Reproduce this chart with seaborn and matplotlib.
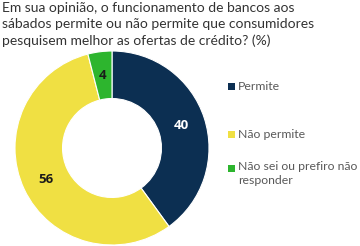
import matplotlib
matplotlib.use("Agg")
import matplotlib.pyplot as plt
import seaborn as sns
import numpy as np

categories = ["Permite", "Não permite", "Não sei ou prefiro não\nresponder"]
values = [40, 56, 4]
colors = ["#0c2f52", "#f0e043", "#2db52e"]
label_colors = ["white", "#1a1a1a", "#1a1a1a"]
title = ("Em sua opinião, o funcionamento de bancos aos\n"
         "sábados permite ou não permite que consumidores\n"
         "pesquisem melhor as ofertas de crédito? (%)")

sns.set_theme(style="white")
plt.rcParams['font.family'] = ['Lato', 'DejaVu Sans']

W, H = 360, 246
fig = plt.figure(figsize=(W / 100, H / 100), dpi=100)
fig.patch.set_facecolor("white")

cx, cy, r = 112, 148, 97
ax = fig.add_axes([(cx - r) / W, (H - cy - r) / H, 2 * r / W, 2 * r / H])
wedges, texts = ax.pie(values, colors=colors, startangle=90, counterclock=False,
                       radius=1.0, wedgeprops=dict(width=0.49, edgecolor="white", linewidth=0.8))
ax.set_xlim(-1, 1)
ax.set_ylim(-1, 1)
ax.set_aspect("equal")
ax.axis("off")

cum = 0
for v, c in zip(values, label_colors):
    mid = 90 - (cum + v / 2) / sum(values) * 360
    cum += v
    rr = 0.755
    ax.text(rr * np.cos(np.radians(mid)), rr * np.sin(np.radians(mid)), str(v),
            ha="center", va="center", color=c, fontsize=9.5, fontweight="bold",
            family=['Open Sans', 'DejaVu Sans'])

fig.text(2 / W, 1 - 2 / H, title, ha="left", va="top", fontsize=10.0,
         color="#333333", linespacing=1.42, family=['Lato', 'DejaVu Sans'])

leg_y = [86, 134, 168]
for cat, col, y in zip(categories, colors, leg_y):
    fig.patches.append(plt.Rectangle((228 / W, 1 - (y + 3.5) / H), 7 / W, 7 / H,
                                     transform=fig.transFigure, facecolor=col, edgecolor="none"))
    multi = "\n" in cat
    fig.text(238 / W, 1 - (y - 7 if multi else y) / H, cat, ha="left",
             va="top" if multi else "center",
             fontsize=8.8, color="#595959", linespacing=1.3)

fig.savefig("out.png", dpi=100)
